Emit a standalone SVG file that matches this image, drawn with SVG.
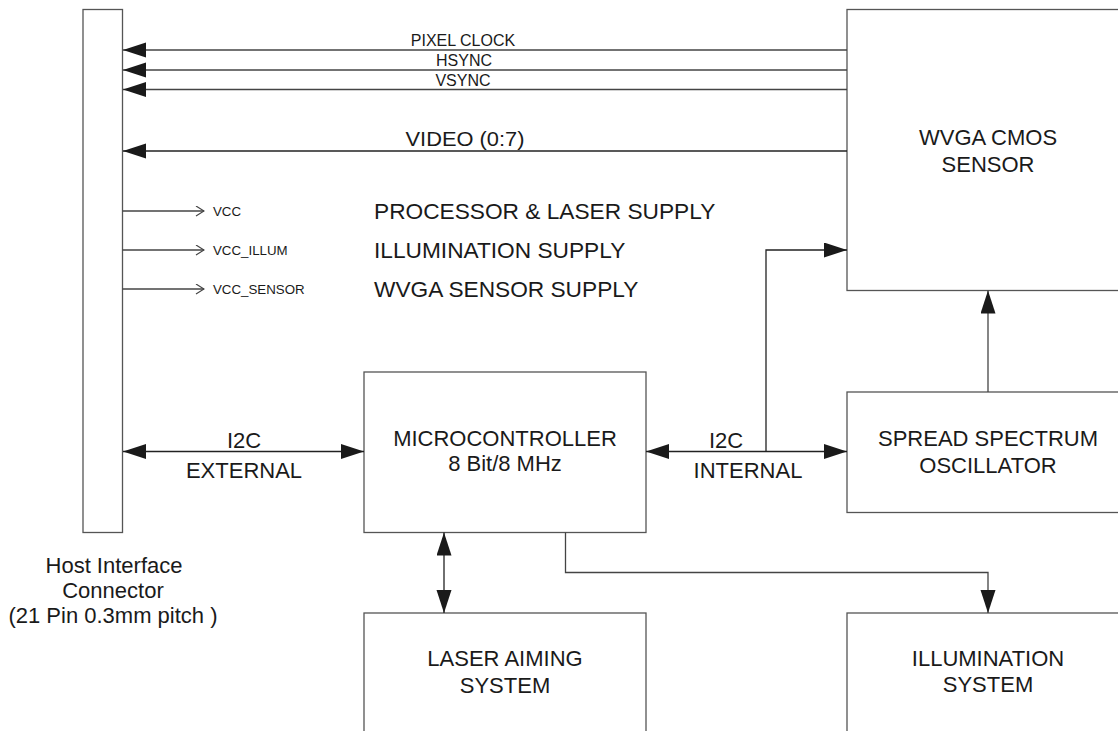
<svg xmlns="http://www.w3.org/2000/svg" width="1118" height="731" viewBox="0 0 1118 731">
<defs>
<style>
.box{fill:#fff;stroke:#555;stroke-width:1.3}
.ln{fill:none;stroke:#444;stroke-width:1.3}
.t{font-family:"Liberation Sans",Arial,sans-serif;fill:#1a1a1a}
.big{font-size:22px}
.sup{font-size:22.7px}
.sig{font-size:16px}
.sm{font-size:13.3px}
.c{text-anchor:middle}
</style>
<marker id="arr" markerUnits="userSpaceOnUse" markerWidth="24" markerHeight="16" refX="23" refY="7.5" orient="auto-start-reverse">
<path d="M0,0 L23,7.5 L0,15 z" fill="#1a1a1a"/>
</marker>
<marker id="open" markerUnits="userSpaceOnUse" markerWidth="10" markerHeight="12" refX="9" refY="5.5" orient="auto">
<path d="M1,0.5 L9,5.5 L1,10.5" fill="none" stroke="#444" stroke-width="1.2"/>
</marker>
</defs>
<rect width="1118" height="731" fill="#fff"/>

<g id="host">
<rect class="box" x="83" y="9.5" width="39.5" height="523"/>
<text class="t big c" x="114" y="573">Host Interface</text>
<text class="t big c" x="113" y="598">Connector</text>
<text class="t big c" x="113" y="623">(21 Pin 0.3mm pitch )</text>
</g>

<g id="sensor">
<rect class="box" x="847" y="9.5" width="290" height="281"/>
<text class="t big c" x="988" y="145">WVGA CMOS</text>
<text class="t big c" x="988" y="172">SENSOR</text>
</g>

<g id="mcu">
<rect class="box" x="364" y="372" width="282" height="160.5"/>
<text class="t big c" x="505" y="446">MICROCONTROLLER</text>
<text class="t big c" x="505" y="471">8 Bit/8 MHz</text>
</g>

<g id="osc">
<rect class="box" x="847" y="392" width="290" height="120.5"/>
<text class="t big c" x="988" y="446">SPREAD SPECTRUM</text>
<text class="t big c" x="988" y="473">OSCILLATOR</text>
</g>

<g id="laser">
<rect class="box" x="364" y="613" width="282" height="130"/>
<text class="t big c" x="505" y="666">LASER AIMING</text>
<text class="t big c" x="505" y="693">SYSTEM</text>
</g>

<g id="illum">
<rect class="box" x="847" y="613" width="290" height="130"/>
<text class="t big c" x="988" y="666">ILLUMINATION</text>
<text class="t big c" x="988" y="692">SYSTEM</text>
</g>

<g id="connectors">
<line class="ln" x1="847" y1="50" x2="123" y2="50" marker-end="url(#arr)"/>
<line class="ln" x1="847" y1="70" x2="123" y2="70" marker-end="url(#arr)"/>
<line class="ln" x1="847" y1="89.5" x2="123" y2="89.5" marker-end="url(#arr)"/>
<line class="ln" x1="847" y1="151" x2="123" y2="151" marker-end="url(#arr)" style="stroke:#222"/>

<line class="ln" x1="122.5" y1="211" x2="204" y2="211" marker-end="url(#open)"/>
<line class="ln" x1="122.5" y1="250" x2="204" y2="250" marker-end="url(#open)"/>
<line class="ln" x1="122.5" y1="289" x2="204" y2="289" marker-end="url(#open)"/>

<line class="ln" x1="123" y1="451.5" x2="364" y2="451.5" marker-start="url(#arr)" marker-end="url(#arr)" style="stroke:#222"/>
<line class="ln" x1="646" y1="451.5" x2="847" y2="451.5" marker-start="url(#arr)" marker-end="url(#arr)" style="stroke:#222"/>
<polyline class="ln" points="766,451.5 766,250 847,250" marker-end="url(#arr)" style="stroke:#222"/>
<line class="ln" x1="988" y1="392" x2="988" y2="290.5" marker-end="url(#arr)"/>
<line class="ln" x1="444" y1="532.5" x2="444" y2="613" marker-start="url(#arr)" marker-end="url(#arr)" style="stroke:#222"/>
<polyline class="ln" points="565.5,532.5 565.5,572.5 988,572.5 988,613" marker-end="url(#arr)"/>

<text class="t sig c" x="463" y="46">PIXEL CLOCK</text>
<text class="t sig c" x="464" y="66">HSYNC</text>
<text class="t sig c" x="463" y="86">VSYNC</text>
<text class="t c" x="465" y="145.5" font-size="21" textLength="119" lengthAdjust="spacingAndGlyphs">VIDEO (0:7)</text>

<text class="t sm" x="213" y="215.5">VCC</text>
<text class="t sm" x="213" y="254.5">VCC_ILLUM</text>
<text class="t sm" x="213" y="293.5">VCC_SENSOR</text>
<text class="t sup" x="374" y="218.5">PROCESSOR &amp; LASER SUPPLY</text>
<text class="t sup" x="374" y="257.5">ILLUMINATION SUPPLY</text>
<text class="t sup" x="374" y="296.5">WVGA SENSOR SUPPLY</text>

<text class="t big c" x="244" y="448">I2C</text>
<text class="t big c" x="244" y="478">EXTERNAL</text>
<text class="t big c" x="726" y="448">I2C</text>
<text class="t big c" x="748" y="478">INTERNAL</text>
</g>
</svg>
